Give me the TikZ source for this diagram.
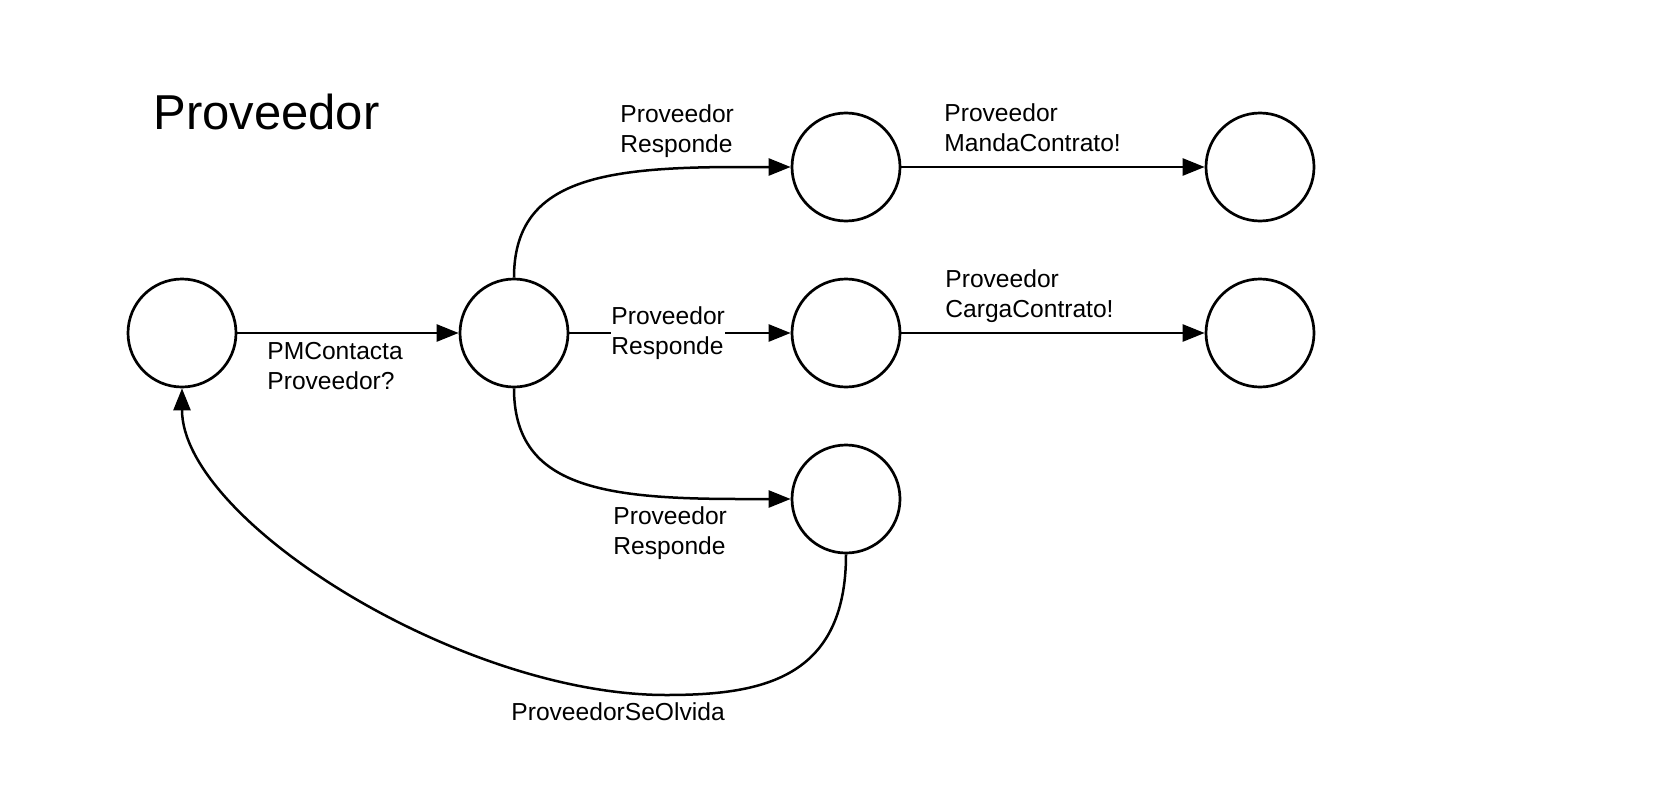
\documentclass[tikz,border=0pt]{standalone}
\usepackage{fontspec}
\setmainfont{Liberation Sans}
\usetikzlibrary{arrows.meta}

\tikzset{
  state/.style={circle,draw,line width=1.35pt,minimum size=54pt,inner sep=0pt},
  trans/.style={line width=1.25pt,-{Triangle[length=11pt,width=8.5pt]}},
  lbl/.style={anchor=north west,inner sep=0pt,align=left,font=\fontsize{12.3}{15}\selectfont},
}

\begin{document}
\begin{tikzpicture}[x=0.5pt,y=-0.5pt]
\useasboundingbox (0,0) rectangle (1658,808);

\node[anchor=north west,inner sep=0pt,font=\fontsize{24.5}{29}\selectfont] (title) at (153,94) {Proveedor};

% estados
\node[state] (s0) at (182,333) {};
\node[state] (s1) at (514,333) {};
\node[state] (s2) at (846,167) {};
\node[state] (s3) at (1260,167) {};
\node[state] (s4) at (846,333) {};
\node[state] (s5) at (1260,333) {};
\node[state] (s6) at (846,499) {};

% transiciones
\draw[trans] (s0) -- (s1);
\draw[trans] (s1.north) .. controls (514,180) and (600,167) .. (740,167) -- (s2.west);
\draw[trans] (s1) -- (s4);
\draw[trans] (s1.south) .. controls (514,486) and (600,499) .. (740,499) -- (s6.west);
\draw[trans] (s2) -- (s3);
\draw[trans] (s4) -- (s5);
\coordinate (low) at (666,695);
\draw[trans] (s6.south) .. controls (846,680) and (760,695) .. (low)
  .. controls (460,695) and (182,520) .. (s0.south);

% etiquetas
\node[lbl] (l01) at (267,342) {PMContacta\\Proveedor?};
\node[lbl] (l12) at (620,104) {Proveedor\\Responde};
\node[lbl,fill=white,inner ysep=1pt] (l14) at (611,304) {Proveedor\\Responde};
\node[lbl] (l16) at (613,506) {Proveedor\\Responde};
\node[lbl] (l23) at (944,103) {Proveedor\\MandaContrato!};
\node[lbl] (l45) at (945,269) {Proveedor\\CargaContrato!};
\node[lbl] (l60) at (511,702) {ProveedorSeOlvida};
\end{tikzpicture}
\end{document}
